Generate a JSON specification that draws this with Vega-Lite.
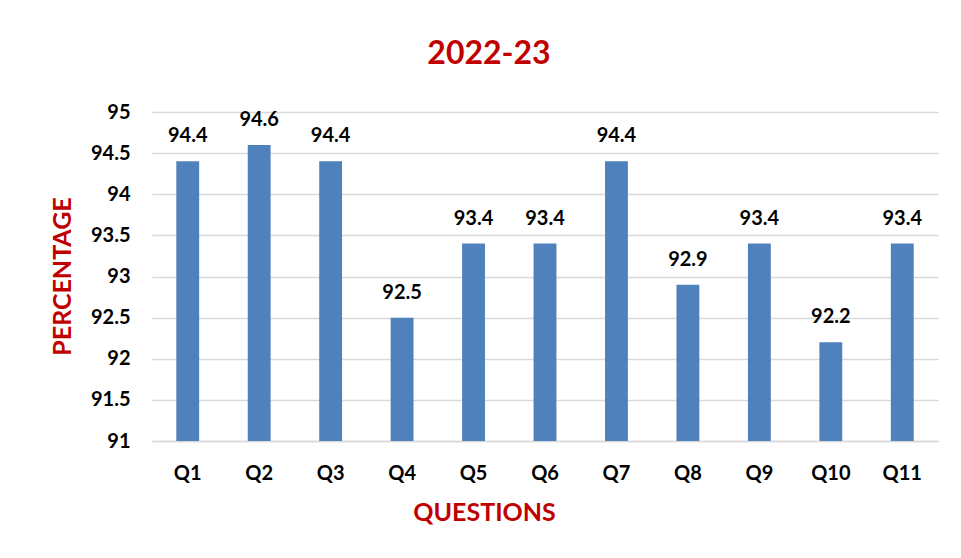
{
  "$schema": "https://vega.github.io/schema/vega-lite/v6.json",
  "width": 786,
  "height": 329,
  "autosize": {"type": "none"},
  "padding": {"left": 152, "top": 112, "right": 23, "bottom": 117},
  "background": "white",
  "config": {"view": {"stroke": null}, "font": "Lato"},
  "title": {
    "text": "2022-23",
    "font": "Lato",
    "fontSize": 32,
    "fontWeight": "bold",
    "color": "#C00000",
    "baseline": "alphabetic",
    "offset": 6,
    "dx": -56
  },
  "data": {
    "values": [
      {"q": "Q1", "v": 94.4},
      {"q": "Q2", "v": 94.6},
      {"q": "Q3", "v": 94.4},
      {"q": "Q4", "v": 92.5},
      {"q": "Q5", "v": 93.4},
      {"q": "Q6", "v": 93.4},
      {"q": "Q7", "v": 94.4},
      {"q": "Q8", "v": 92.9},
      {"q": "Q9", "v": 93.4},
      {"q": "Q10", "v": 92.2},
      {"q": "Q11", "v": 93.4}
    ]
  },
  "encoding": {
    "x": {
      "field": "q",
      "type": "nominal",
      "sort": null,
      "scale": {"paddingInner": 0.68, "paddingOuter": 0.34},
      "axis": {
        "title": "QUESTIONS",
        "titleFont": "Lato",
        "titleFontSize": 25,
        "titleFontWeight": "bold",
        "titleColor": "#C00000",
        "titleBaseline": "alphabetic",
        "titleY": 79,
        "titleX": 332,
        "labelAngle": 0,
        "labelFont": "Lato",
        "labelFontSize": 20,
        "labelFontWeight": "bold",
        "labelColor": "#000000",
        "labelPadding": 22,
        "ticks": false,
        "domainColor": "#d9d9d9",
        "domainWidth": 1.5,
        "grid": false
      }
    },
    "y": {
      "field": "v",
      "type": "quantitative",
      "scale": {"domain": [91, 95], "zero": false},
      "axis": {
        "title": "PERCENTAGE",
        "titleFont": "Lato",
        "titleFontSize": 25,
        "titleFontWeight": "bold",
        "titleColor": "#C00000",
        "titleX": -90,
        "titleY": 164,
        "titleBaseline": "middle",
        "titleAngle": -90,
        "values": [91, 91.5, 92, 92.5, 93, 93.5, 94, 94.5, 95],
        "format": "~g",
        "labelFont": "Lato",
        "labelFontSize": 20,
        "labelFontWeight": "bold",
        "labelColor": "#000000",
        "labelPadding": 22,
        "ticks": false,
        "domain": false,
        "grid": true,
        "gridColor": "#d9d9d9",
        "gridWidth": 1.5
      }
    }
  },
  "layer": [
    {"mark": {"type": "bar", "color": "#4F81BD", "clip": true}},
    {
      "mark": {
        "type": "text",
        "baseline": "alphabetic",
        "dy": -19,
        "font": "Lato",
        "fontSize": 20,
        "fontWeight": "bold",
        "color": "#000000"
      },
      "encoding": {"text": {"field": "v", "type": "quantitative", "format": ".1f"}}
    }
  ]
}
